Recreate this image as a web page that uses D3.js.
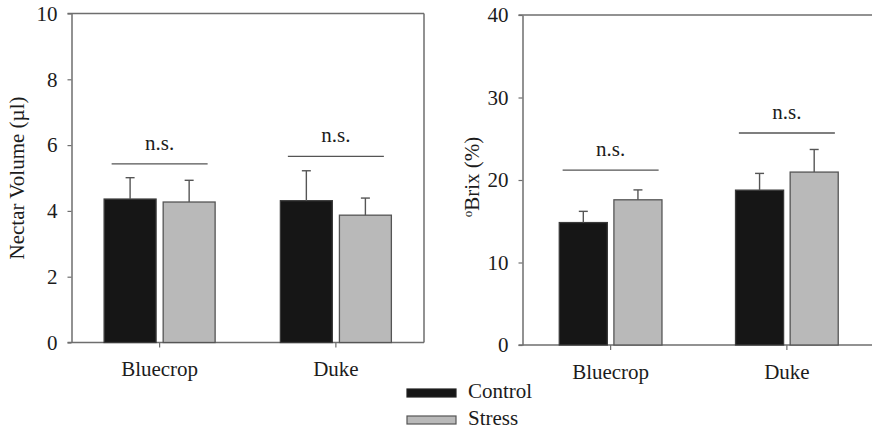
<!DOCTYPE html>
<html>
<head>
<meta charset="utf-8">
<script src="https://cdn.jsdelivr.net/npm/d3@7"></script>
<style>
  body { margin: 0; background: #fff; }
</style>
</head>
<body>
<div id="chart"></div>
<script>
// datos
const categories = ["Bluecrop", "Duke"];
const seriesNames = ["Control", "Stress"];
const seriesColors = ["#161616", "#b9b9b9"];

// panel izquierdo: volumen de nectar
const volumeTicks = [0, 2, 4, 6, 8, 10];
const volumeControl = [4.36, 4.31];
const volumeControlErr = [0.65, 0.91];
const volumeStress = [4.27, 3.87];
const volumeStressErr = [0.66, 0.52];
const volumeSigLine = [5.43, 5.66];

// panel derecho: grados Brix
const brixTicks = [0, 10, 20, 30, 40];
const brixControl = [14.84, 18.77];
const brixControlErr = [1.36, 2.03];
const brixStress = [17.6, 20.96];
const brixStressErr = [1.2, 2.74];
const brixSigLine = [21.2, 25.7];

const W = 872, H = 432;
const axisColor = "#6e6e6e";
const serif = "'Liberation Serif', 'DejaVu Serif', serif";
const textColor = "#1c1c1c";
const fontSize = "21px";

const svg = d3.select("#chart").append("svg")
    .attr("width", W)
    .attr("height", H);

function drawPanel(p) {
    const y = d3.scaleLinear().domain([p.ticks[0], p.ticks[p.ticks.length - 1]]).range([p.bottom, p.top]);
    const x0 = d3.scaleBand().domain(categories).range([p.left, p.right]).padding(0);
    const x1 = d3.scaleBand().domain(seriesNames)
        .range([-p.groupWidth / 2, p.groupWidth / 2])
        .paddingInner(p.innerPad);

    const rows = [];
    categories.forEach((c, i) => {
        seriesNames.forEach((s, j) => {
            rows.push({ cat: c, series: s, idx: j, value: p.values[j][i], err: p.errors[j][i] });
        });
    });

    const g = svg.append("g");

    // Marco
    g.append("line").attr("x1", p.left - 4).attr("x2", p.right).attr("y1", p.top).attr("y2", p.top)
        .attr("stroke", axisColor).attr("stroke-width", 1.5);
    g.append("line").attr("x1", p.left - 4).attr("x2", p.right).attr("y1", p.bottom).attr("y2", p.bottom)
        .attr("stroke", axisColor).attr("stroke-width", 1.5);
    g.append("line").attr("x1", p.right).attr("x2", p.right).attr("y1", p.top).attr("y2", p.bottom)
        .attr("stroke", axisColor).attr("stroke-width", 1.5);

    // Ejes
    const yAxis = g.append("g")
        .attr("transform", `translate(${p.left},0)`)
        .call(d3.axisLeft(y).tickValues(p.ticks).tickSize(4).tickSizeOuter(0).tickPadding(10));
    yAxis.select(".domain").attr("stroke", axisColor).attr("stroke-width", 1.5);
    yAxis.selectAll(".tick line").attr("stroke", axisColor).attr("stroke-width", 1.2);
    yAxis.selectAll(".tick text")
        .style("font-family", serif).style("font-size", fontSize).attr("fill", textColor);

    const xAxis = g.append("g")
        .attr("transform", `translate(0,${p.bottom})`)
        .call(d3.axisBottom(x0).tickSize(5).tickSizeOuter(0).tickPadding(14));
    xAxis.select(".domain").remove();
    xAxis.selectAll(".tick line").attr("stroke", axisColor).attr("stroke-width", 1.2);
    xAxis.selectAll(".tick text")
        .style("font-family", serif).style("font-size", fontSize).attr("fill", textColor);

    // Barras
    const cx = d => x0(d.cat) + x0.bandwidth() / 2 + x1(d.series);
    g.selectAll(".bar")
        .data(rows)
        .enter().append("rect")
        .attr("class", "bar")
        .attr("x", d => cx(d))
        .attr("y", d => y(d.value))
        .attr("width", x1.bandwidth())
        .attr("height", d => y(0) - y(d.value))
        .attr("fill", d => seriesColors[d.idx])
        .attr("stroke", d => d.idx === 0 ? "#3a3a3a" : "#555")
        .attr("stroke-width", 1.3);

    // Barras de error (solo hacia arriba)
    const ex = d => cx(d) + x1.bandwidth() / 2;
    g.selectAll(".err")
        .data(rows)
        .enter().append("line")
        .attr("x1", ex).attr("x2", ex)
        .attr("y1", d => y(d.value)).attr("y2", d => y(d.value + d.err))
        .attr("stroke", "#555").attr("stroke-width", 1.4);
    g.selectAll(".cap")
        .data(rows)
        .enter().append("line")
        .attr("x1", d => ex(d) - 4.5).attr("x2", d => ex(d) + 4.5)
        .attr("y1", d => y(d.value + d.err)).attr("y2", d => y(d.value + d.err))
        .attr("stroke", "#555").attr("stroke-width", 1.4);

    // Lineas n.s.
    categories.forEach((c, i) => {
        const mid = x0(c) + x0.bandwidth() / 2;
        const ly = y(p.sig[i]);
        g.append("line")
            .attr("x1", mid - 48).attr("x2", mid + 48)
            .attr("y1", ly).attr("y2", ly)
            .attr("stroke", "#555").attr("stroke-width", 1.3);
        g.append("text")
            .attr("x", mid)
            .attr("y", ly - 14)
            .attr("text-anchor", "middle")
            .style("font-family", serif)
            .style("font-size", fontSize)
            .attr("fill", textColor)
            .text("n.s.");
    });

    return g;
}

drawPanel({
    left: 71.5, right: 424, top: 13.5, bottom: 342.5,
    ticks: volumeTicks,
    values: [volumeControl, volumeStress],
    errors: [volumeControlErr, volumeStressErr],
    sig: volumeSigLine,
    groupWidth: 111, innerPad: 0.12
});

drawPanel({
    left: 522.5, right: 875, top: 15, bottom: 345,
    ticks: brixTicks,
    values: [brixControl, brixStress],
    errors: [brixControlErr, brixStressErr],
    sig: brixSigLine,
    groupWidth: 102.7, innerPad: 0.12
});

// Etiquetas de los ejes Y
svg.append("text")
    .attr("transform", "translate(24,178) rotate(-90)")
    .attr("text-anchor", "middle")
    .style("font-family", serif)
    .style("font-size", fontSize)
    .attr("fill", textColor)
    .text("Nectar Volume (µl)");

const brixLabel = svg.append("text")
    .attr("transform", "translate(479,177) rotate(-90)")
    .attr("text-anchor", "middle")
    .style("font-family", serif)
    .style("font-size", fontSize)
    .attr("fill", textColor);
brixLabel.append("tspan").attr("dy", -7).style("font-size", "13px").text("o");
brixLabel.append("tspan").attr("dy", 7).text("Brix (%)");

// Leyenda
const legend = svg.append("g").attr("transform", "translate(407,389)");
seriesNames.forEach((s, i) => {
    legend.append("rect")
        .attr("x", 0).attr("y", i * 27)
        .attr("width", 49).attr("height", 8)
        .attr("fill", seriesColors[i])
        .attr("stroke", i === 0 ? "#222" : "#555")
        .attr("stroke-width", 1.2);
    legend.append("text")
        .attr("x", 61).attr("y", i * 27 + 9)
        .style("font-family", serif)
        .style("font-size", fontSize)
        .attr("fill", textColor)
        .text(s);
});
</script>
</body>
</html>
